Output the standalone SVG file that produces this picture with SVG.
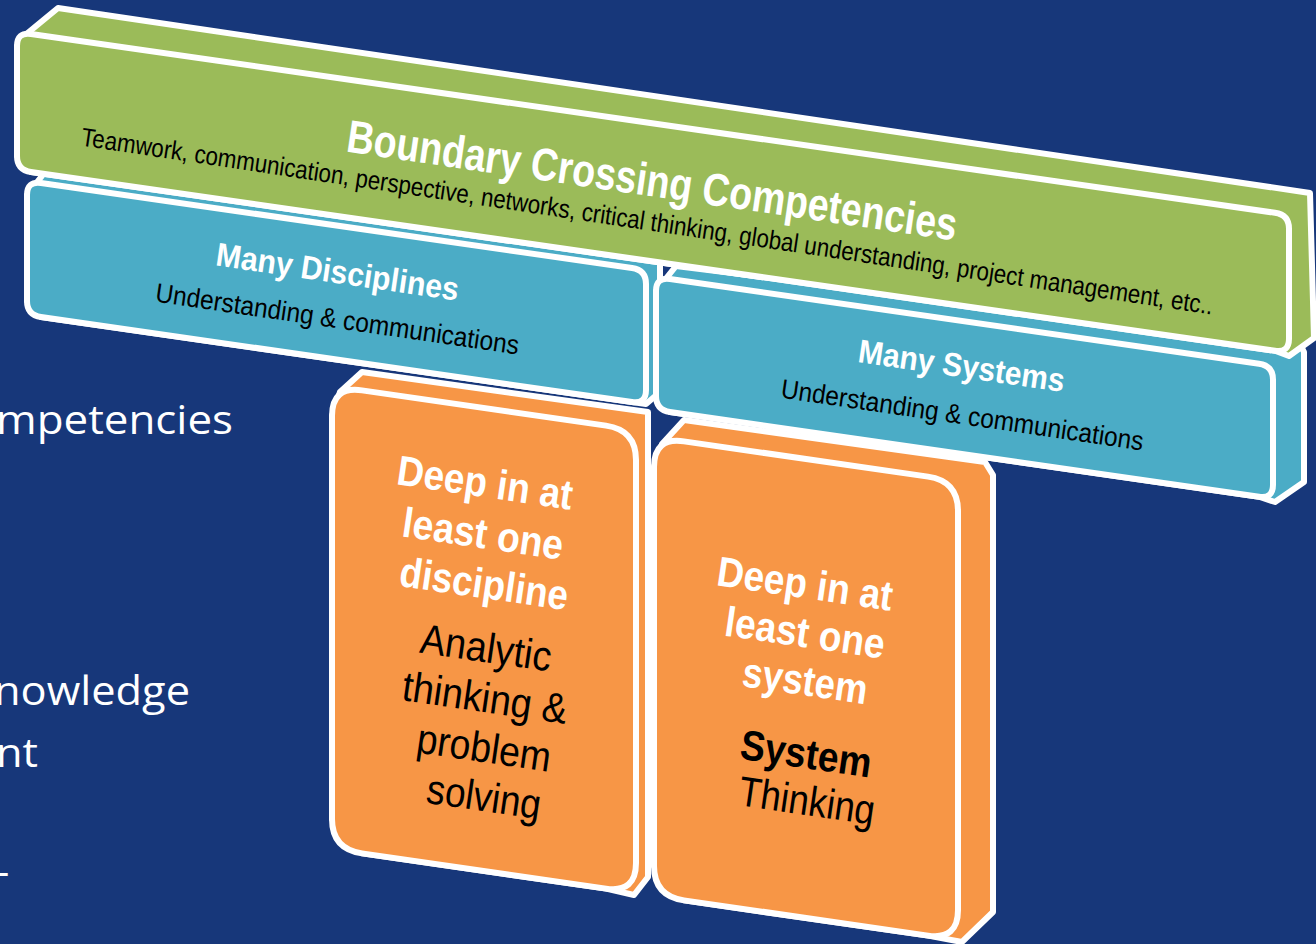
<svg xmlns="http://www.w3.org/2000/svg" width="1316" height="944" viewBox="0 0 1316 944">
<style>
.box{stroke:#fff;stroke-width:6;stroke-linejoin:round}
.g{fill:#9BBB59}.b{fill:#4BACC6}.o{fill:#F79646}
.w{font-family:"Liberation Sans",Arial,sans-serif;font-weight:bold;fill:#fff;text-anchor:middle}
.k{font-family:"Liberation Sans",Arial,sans-serif;fill:#000;text-anchor:middle}
.kb{font-family:"Liberation Sans",Arial,sans-serif;font-weight:bold;fill:#000;text-anchor:middle}
.side{font-family:"Open Sans","Noto Sans",sans-serif;font-size:40px;fill:#fff}
</style>
<rect width="1316" height="944" fill="#17377A"/>
<g id="slide-text">
<text class="side" x="-4" y="434" textLength="237" lengthAdjust="spacingAndGlyphs">mpetencies</text>
<text class="side" x="-6" y="705" textLength="196" lengthAdjust="spacingAndGlyphs">nowledge</text>
<text class="side" x="-4" y="767" textLength="42" lengthAdjust="spacingAndGlyphs">nt</text>
<text class="side" x="-14" y="902">T</text>
</g>
<g id="deep-discipline">
<polygon class="box o" points="332,416 340,392 362,372 648,412 648,877 634,895 606,888.6 362,853.4 332,819"/>
<path class="box o" d="M332,416 Q332,386 362,390.4 L606,425.6 Q636,430 636,460 L636,863 Q636,893 606,888.6 L362,853.4 Q332,849 332,819 Z"/>
<text class="w" x="483" y="497" font-size="42" textLength="177" lengthAdjust="spacingAndGlyphs" transform="rotate(8.3 483 497)">Deep in at</text>
<text class="w" x="481" y="548" font-size="42" textLength="162" lengthAdjust="spacingAndGlyphs" transform="rotate(8.3 481 548)">least one</text>
<text class="w" x="482" y="598" font-size="42" textLength="170" lengthAdjust="spacingAndGlyphs" transform="rotate(8.3 482 598)">discipline</text>
<text class="k" x="484" y="662" font-size="42" textLength="132" lengthAdjust="spacingAndGlyphs" transform="rotate(8.3 484 662)">Analytic</text>
<text class="k" x="483" y="712" font-size="42" textLength="166" lengthAdjust="spacingAndGlyphs" transform="rotate(8.3 483 712)">thinking &amp;</text>
<text class="k" x="482" y="762" font-size="42" textLength="135" lengthAdjust="spacingAndGlyphs" transform="rotate(8.3 482 762)">problem</text>
<text class="k" x="482" y="811" font-size="42" textLength="115" lengthAdjust="spacingAndGlyphs" transform="rotate(8.3 482 811)">solving</text>
</g>
<g id="deep-system">
<polygon class="box o" points="654,467 662,444 684,420 985,462 993,475 993,912 962,942 928,935.6 684,900.4 654,866"/>
<path class="box o" d="M654,467 Q654,437 684,441.4 L928,476.6 Q958,481 958,511 L958,910 Q958,940 928,935.6 L684,900.4 Q654,896 654,866 Z"/>
<text class="w" x="803" y="598" font-size="42" textLength="177" lengthAdjust="spacingAndGlyphs" transform="rotate(8.3 803 598)">Deep in at</text>
<text class="w" x="803" y="647" font-size="42" textLength="161" lengthAdjust="spacingAndGlyphs" transform="rotate(8.3 803 647)">least one</text>
<text class="w" x="803" y="695" font-size="42" textLength="126" lengthAdjust="spacingAndGlyphs" transform="rotate(8.3 803 695)">system</text>
<text class="kb" x="804" y="768" font-size="42" textLength="132" lengthAdjust="spacingAndGlyphs" transform="rotate(8.3 804 768)">System</text>
<text class="k" x="805" y="815" font-size="42" textLength="137" lengthAdjust="spacingAndGlyphs" transform="rotate(8.3 805 815)">Thinking</text>
</g>
<g id="many-disciplines">
<polygon class="box b" points="27,195 45,172 660,260 660,392 646,404 632,402 41,317 27,301"/>
<path class="box b" d="M27,195 Q27,181 41,183 L632,268 Q646,270 646,284 L646,390 Q646,404 632,402 L41,317 Q27,315 27,301 Z"/>
<text class="w" x="336" y="283" font-size="33" textLength="245" lengthAdjust="spacingAndGlyphs" transform="rotate(8.3 336 283)">Many Disciplines</text>
<text class="k" x="336" y="328" font-size="27" textLength="367" lengthAdjust="spacingAndGlyphs" transform="rotate(8.3 336 328)">Understanding &amp; communications</text>
</g>
<g id="many-systems">
<polygon class="box b" points="656,291 676,266 1300,344 1304,352 1304,482 1275,502 1259,496.7 670,412 656,396"/>
<path class="box b" d="M656,291 Q656,277 670,279 L1259,363.7 Q1273,365.7 1273,379.7 L1273,484.7 Q1273,498.7 1259,496.7 L670,412 Q656,410 656,396 Z"/>
<text class="w" x="960" y="377" font-size="33" textLength="208" lengthAdjust="spacingAndGlyphs" transform="rotate(8.3 960 377)">Many Systems</text>
<text class="k" x="961" y="424" font-size="27" textLength="366" lengthAdjust="spacingAndGlyphs" transform="rotate(8.3 961 424)">Understanding &amp; communications</text>
</g>
<g id="boundary-crossing">
<polygon class="box g" points="17,46 24,36 58,8 1310,193 1314,338 1289,356 1275,350.8 31,172 17,156"/>
<path class="box g" d="M17,46 Q17,32 31,34 L1275,212.8 Q1289,214.8 1289,228.8 L1289,338.8 Q1289,352.8 1275,350.8 L31,172 Q17,170 17,156 Z"/>
<text class="w" x="650" y="196" font-size="46" textLength="616" lengthAdjust="spacingAndGlyphs" transform="rotate(8.3 650 196)">Boundary Crossing Competencies</text>
<text class="k" x="646" y="230" font-size="26" textLength="1144" lengthAdjust="spacingAndGlyphs" transform="rotate(8.5 646 230)">Teamwork, communication, perspective, networks, critical thinking, global understanding, project management, etc..</text>
</g>
<g id="connectors"/>
</svg>
